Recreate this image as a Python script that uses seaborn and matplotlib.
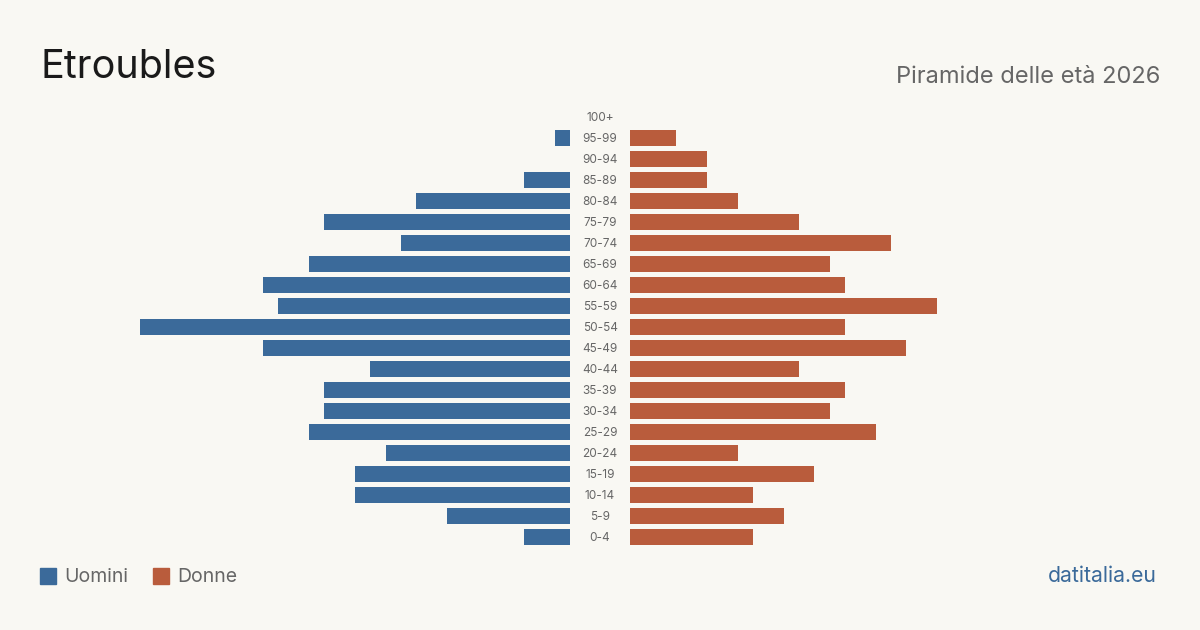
import numpy as np
import pandas as pd
import matplotlib
matplotlib.use('Agg')
import matplotlib.pyplot as plt
import seaborn as sns

# Data
age_groups = ['100+', '95-99', '90-94', '85-89', '80-84', '75-79', '70-74',
              '65-69', '60-64', '55-59', '50-54', '45-49', '40-44', '35-39',
              '30-34', '25-29', '20-24', '15-19', '10-14', '5-9', '0-4']
men = [0, 1, 0, 3, 10, 16, 11, 17, 20, 19, 28, 20, 13, 16, 16, 17, 12, 14, 14, 8, 3]
women = [0, 3, 5, 5, 7, 11, 17, 13, 14, 20, 14, 18, 11, 14, 13, 16, 7, 12, 8, 10, 8]

title = 'Etroubles'
subtitle = 'Piramide delle età 2026'
source = 'datitalia.eu'

# Style
BG = '#f9f8f3'
BLUE = '#3b6a9a'
ORANGE = '#b95c3c'
GREY = '#666666'

sns.set_theme(style='white')
plt.rcParams['font.family'] = ['Inter', 'DejaVu Sans']

df = pd.DataFrame({'age': age_groups, 'men': men, 'women': women})

fig = plt.figure(figsize=(12, 6.3), dpi=100, facecolor=BG)

W, H = 1200, 630
xmax = 530 / 15.36
ax_bottom = (H - 547.5) / H
ax_height = 441 / H
ax_l = fig.add_axes([40 / W, ax_bottom, 530 / W, ax_height])
ax_r = fig.add_axes([630 / W, ax_bottom, 530 / W, ax_height])

sns.barplot(data=df, x='men', y='age', color=BLUE, width=0.8, ax=ax_l,
            saturation=1, orient='h', linewidth=0, edgecolor='none')
sns.barplot(data=df, x='women', y='age', color=ORANGE, width=0.8, ax=ax_r,
            saturation=1, orient='h', linewidth=0, edgecolor='none')

for ax in (ax_l, ax_r):
    ax.set_facecolor('none')
    ax.set_xlim(0, xmax)
    ax.set_ylim(len(age_groups) - 0.5, -0.5)
    ax.set_xlabel('')
    ax.set_ylabel('')
    ax.set_xticks([])
    ax.set_yticks([])
    sns.despine(ax=ax, left=True, bottom=True)
ax_l.invert_xaxis()

# age labels in the gap
for i, lab in enumerate(age_groups):
    ax_r.text(-30 / 15.36, i + 0.05, lab, ha='center', va='center',
              fontsize=8.5, color=GREY)

fig.text(40 / W, 1 - 67 / H, title, fontsize=28.5, color='#1a1a1a',
         ha='left', va='center')
fig.text(1160 / W, 1 - 77 / H, subtitle, fontsize=17, color=GREY,
         ha='right', va='center')
fig.text(1157 / W, 1 - 576 / H, source, fontsize=15.3, color=BLUE,
         ha='right', va='center')

# legend
fig.patches.append(plt.Rectangle((40 / W, 1 - 584 / H), 16 / W, 16 / H,
                                 transform=fig.transFigure, color=BLUE))
fig.text(64 / W, 1 - 577 / H, 'Uomini', fontsize=14, color=GREY,
         ha='left', va='center')
fig.patches.append(plt.Rectangle((153 / W, 1 - 584 / H), 16 / W, 16 / H,
                                 transform=fig.transFigure, color=ORANGE))
fig.text(177 / W, 1 - 577 / H, 'Donne', fontsize=14, color=GREY,
         ha='left', va='center')

fig.savefig('out.png', dpi=100, facecolor=BG)
